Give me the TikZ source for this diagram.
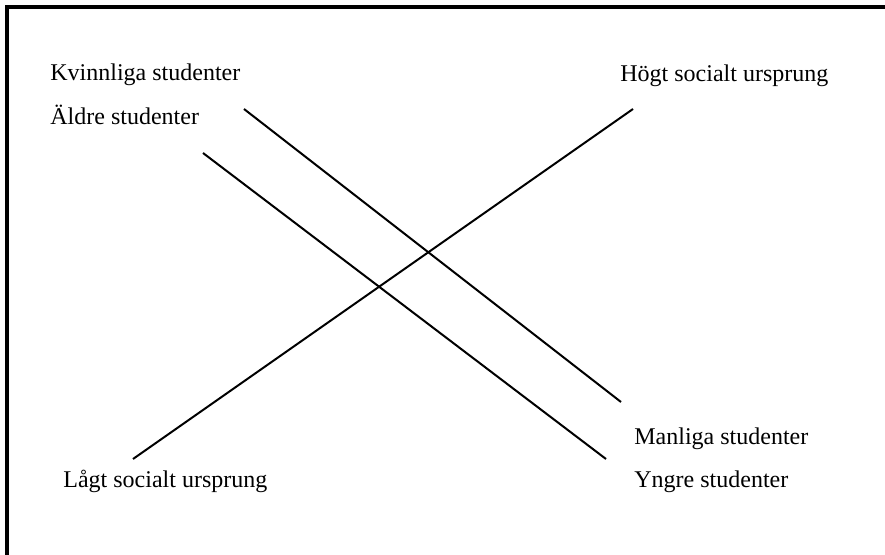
\documentclass[tikz,border=0pt]{standalone}
\usepackage{fontspec}
\setmainfont{Liberation Serif}
\tikzset{
    label text/.style = {anchor = base west, inner sep = 0pt, font = \fontsize{12}{14}\selectfont},
    axis line/.style = {line width = 1pt}
}
\begin{document}
\begin{tikzpicture}[x = 0.5pt, y = -0.5pt]
        \useasboundingbox (0, 0) rectangle (885, 555);
        \draw [line width = 1.6pt] (7, 555) -- (7, 7) -- (885, 7);
        \coordinate (k) at (244, 109);
        \coordinate (m) at (621, 402);
        \coordinate (a) at (203, 153);
        \coordinate (y) at (606, 459);
        \coordinate (l) at (133, 459);
        \coordinate (h) at (633, 109);
        \draw [axis line] (k) -- (m);
        \draw [axis line] (a) -- (y);
        \draw [axis line] (l) -- (h);
        \node [label text] (kvinnliga) at (50, 81) {Kvinnliga studenter};
        \node [label text] (aldre) at (50, 125) {Äldre studenter};
        \node [label text] (hogt) at (620, 82) {Högt socialt ursprung};
        \node [label text] (manliga) at (634, 445) {Manliga studenter};
        \node [label text] (yngre) at (634, 488) {Yngre studenter};
        \node [label text] (lagt) at (63, 488) {Lågt socialt ursprung};
    \end{tikzpicture}
\end{document}
